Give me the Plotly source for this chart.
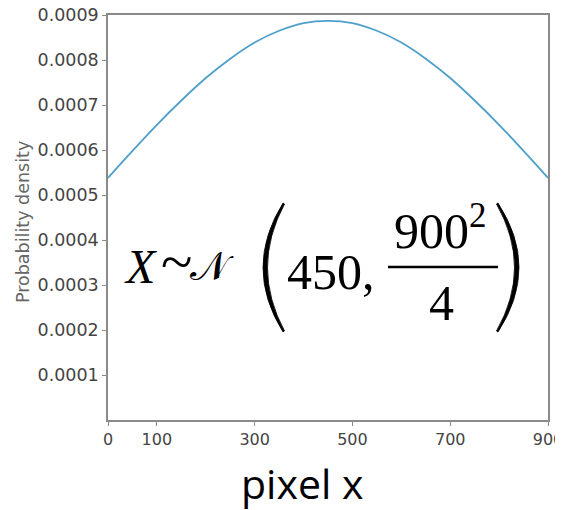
import plotly.graph_objects as go

# Data
pixel_x = [0, 50, 100, 150, 200, 250, 300, 350, 400, 450,
           500, 550, 600, 650, 700, 750, 800, 850, 900]
density = [0.000538, 0.000598, 0.000656, 0.000710, 0.000760, 0.000803, 0.000839, 0.000865, 0.000882, 0.000887,
           0.000882, 0.000865, 0.000839, 0.000803, 0.000760, 0.000710, 0.000656, 0.000598, 0.000538]
x_ticks = [0, 100, 300, 500, 700, 900]
y_ticks = [0.0001, 0.0002, 0.0003, 0.0004, 0.0005, 0.0006, 0.0007, 0.0008, 0.0009]
y_tick_labels = ["0.0001", "0.0002", "0.0003", "0.0004", "0.0005", "0.0006", "0.0007", "0.0008", "0.0009"]

# page has an 8px body margin, so the figure is drawn 8px smaller and coordinates below are page pixels
OFF = 8
W, H = 563 - OFF, 510 - OFF
PL, PR, PT, PB = 108, 548, 15, 420          # plot area in page pixels
L, T = PL - OFF, PT - OFF
R, B = (W + OFF) - PR, (H + OFF) - PB
PW, PH = PR - PL, PB - PT

def px(x):
    return (x - PL) / PW

def py(y):
    return (PB - y) / PH

fig = go.Figure()
fig.add_trace(go.Scatter(x=pixel_x, y=density, mode="lines", line=dict(color="#4f9fcc", width=1.8, shape="spline"),
                         hoverinfo="skip", showlegend=False))

axis_common = dict(showline=True, linecolor="#8a8a8a", linewidth=1.5, mirror=True, showgrid=False, zeroline=False,
                   automargin=False, ticklabeloverflow="allow", ticks="outside", ticklen=4, tickcolor="#8a8a8a")

fig.update_xaxes(range=[0, 900], tickvals=x_ticks, ticktext=[str(v) for v in x_ticks],
                 tickfont=dict(family="DejaVu Sans", size=16, color="#444"), **axis_common)
fig.update_yaxes(range=[0, 0.0009], tickvals=y_ticks, ticktext=y_tick_labels,
                 tickfont=dict(family="DejaVu Sans", size=17.5, color="#444"), **axis_common)

# y axis title
fig.add_annotation(text="Probability density", x=px(23), y=py(222), xref="paper", yref="paper", showarrow=False,
                   textangle=-90, xanchor="center", yanchor="middle",
                   font=dict(family="DejaVu Sans", size=17.5, color="#666"))

serif = "Liberation Serif"
anns = [
    dict(text="<i>X</i>", x=px(140), y=py(266), size=48),
    dict(text="~", x=px(176), y=py(262), size=58),
    dict(text="𝒩", x=px(212), y=py(266), size=40),
    dict(text="450,", x=px(331), y=py(272), size=50),
    dict(text="900<sup>2</sup>", x=px(440), y=py(227), size=50),
    dict(text="4", x=px(441), y=py(303), size=50),
]
for a in anns:
    fig.add_annotation(text=a["text"], x=a["x"], y=a["y"], xref="paper", yref="paper", showarrow=False,
                       xanchor="center", yanchor="middle", font=dict(family=serif, size=a["size"], color="black"))

# fraction bar
fig.add_shape(type="line", xref="paper", yref="paper", x0=px(388), x1=px(498), y0=py(267), y1=py(267),
              line=dict(color="black", width=2.5))

# stretched parentheses drawn as thin crescents
def paren(x_end, x_mid_out, x_mid_in, y_top, y_bot, x_end_in):
    ym = (y_top + y_bot) / 2
    c_out = 2 * x_mid_out - x_end
    c_in = 2 * x_mid_in - x_end_in
    return (f"M {px(x_end)} {py(y_top)} Q {px(c_out)} {py(ym)} {px(x_end)} {py(y_bot)} "
            f"L {px(x_end_in)} {py(y_bot - 1)} Q {px(c_in)} {py(ym)} {px(x_end_in)} {py(y_top + 1)} Z")

fig.add_shape(type="path", xref="paper", yref="paper", path=paren(283, 263, 267.5, 203, 332, 284.5),
              fillcolor="black", line=dict(color="black", width=0.8))
fig.add_shape(type="path", xref="paper", yref="paper", path=paren(498, 519, 514.5, 203, 332, 496.5),
              fillcolor="black", line=dict(color="black", width=0.8))

fig.add_annotation(text="pixel x", x=px(302), y=py(483), xref="paper", yref="paper", showarrow=False,
                   xanchor="center", yanchor="middle", font=dict(family="Open Sans", size=41, color="black"))

fig.update_layout(width=W, height=H, margin=dict(l=L, r=R, t=T, b=B), plot_bgcolor="white", paper_bgcolor="white")

fig.write_html("out.html")
